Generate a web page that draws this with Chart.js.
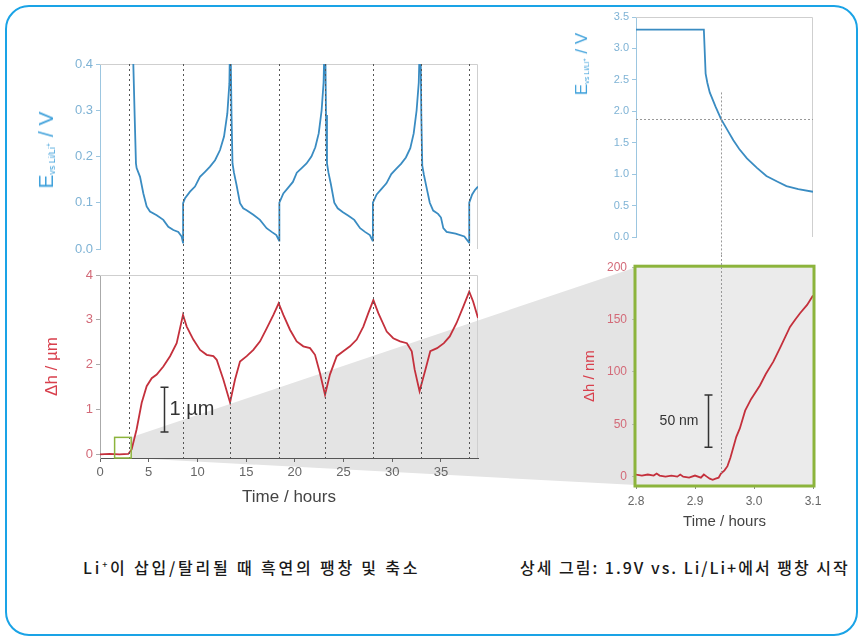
<!DOCTYPE html>
<html>
<head>
<meta charset="utf-8">
<script src="https://cdn.jsdelivr.net/npm/chart.js@4.4.1/dist/chart.umd.min.js"></script>
<style>
  html, body { margin: 0; padding: 0; background: #fff; }
  body { width: 861px; height: 639px; position: relative; overflow: hidden; font-family: 'Liberation Sans', Arial, sans-serif; }
  .frame { position: absolute; left: 5px; top: 5px; width: 849px; height: 627px; border: 2px solid #1aa3e6; border-radius: 24px; }
  #wedge { position: absolute; left: 0; top: 0; width: 861px; height: 639px; background: #e4e4e4; clip-path: polygon(0 0, 0 0, 0 0); }
  canvas { position: absolute; }
  .ylab { position: absolute; transform: translate(-50%, -50%) rotate(-90deg); white-space: nowrap; color: #3fa1db; line-height: 1; }
  .ylab sub { font-size: 0.42em; vertical-align: -0.25em; }
  .ylab sup { font-size: 0.8em; vertical-align: 0.5em; }
  .cap { position: absolute; top: 555px; font-family: 'Noto Sans CJK KR', sans-serif; font-size: 16px; font-weight: 500; color: #1a1a1a; white-space: nowrap; }
  .cap sup { font-size: 9px; vertical-align: 6px; }
</style>
</head>
<body>
<div class="frame"></div>
<div id="wedge"></div>
<canvas id="voltChart" width="490" height="262" style="left:0;top:0"></canvas>
<canvas id="heightChart" width="490" height="250" style="left:0;top:262px"></canvas>
<canvas id="zoomVoltChart" width="300" height="255" style="left:560px;top:0"></canvas>
<canvas id="zoomHeightChart" width="300" height="280" style="left:560px;top:255px"></canvas>
<div class="ylab" style="left:46px;top:150px;font-size:21px">E<sub>vs Li/Li<sup>+</sup></sub> / V</div>
<div class="ylab" style="left:582px;top:64px;font-size:17px">E<sub>vs Li/Li<sup>+</sup></sub> / V</div>
<div class="cap" style="left:83px;letter-spacing:2.8px">Li<sup>+</sup>이 삽입/탈리될 때 흑연의 팽창 및 축소</div>
<div class="cap" style="left:520px;letter-spacing:2px">상세 그림: 1.9V vs. Li/Li+에서 팽창 시작</div>
<script>
// cycle boundaries (hours)
const dashTimes = [3.0, 8.52, 13.35, 18.4, 23.1, 28.0, 32.9, 37.9];

// potential over the whole run
const timeE = [0, 2.95, 3.42, 3.56, 3.69, 3.76, 4.11, 4.45, 4.79, 5.13, 5.82, 6.5, 7.01, 7.53, 8.04, 8.38, 8.52,
  8.53, 8.73, 9.24, 9.75, 10.26, 10.78, 11.29, 11.81, 12.32, 12.73, 13.07, 13.28, 13.35, 13.38,
  13.42, 13.5, 13.6, 13.75, 14.0, 14.37, 14.7, 15.05, 15.74, 16.42, 17.1, 17.62, 18.1, 18.38,
  18.41, 18.82, 19.3, 19.8, 20.2, 20.7, 21.2, 21.7, 22.1, 22.45, 22.75, 22.95, 23.05, 23.08,
  23.12, 23.2, 23.3, 23.45, 23.7, 24.05, 24.4, 24.9, 25.5, 26.1, 26.7, 27.2, 27.7, 27.98,
  28.01, 28.4, 28.9, 29.4, 29.9, 30.4, 30.9, 31.4, 31.85, 32.2, 32.5, 32.72, 32.83, 32.86,
  32.9, 32.98, 33.08, 33.25, 33.5, 33.85, 34.2, 34.7, 35.0, 35.24, 35.58, 36.5, 37.4, 37.88,
  37.9, 38.2, 38.5, 38.8];
const voltE = [3.3, 3.3, 0.40, 0.286, 0.185, 0.175, 0.156, 0.12, 0.092, 0.081, 0.073, 0.063, 0.048, 0.041, 0.037, 0.027, 0.014,
  0.099, 0.11, 0.124, 0.135, 0.156, 0.167, 0.178, 0.192, 0.214, 0.243, 0.293, 0.358, 0.45, 0.8,
  0.45, 0.29, 0.185, 0.165, 0.14, 0.099, 0.088, 0.084, 0.074, 0.063, 0.045, 0.037, 0.03, 0.018,
  0.1, 0.12, 0.132, 0.145, 0.165, 0.175, 0.185, 0.2, 0.22, 0.25, 0.3, 0.36, 0.45, 0.8,
  0.45, 0.29, 0.185, 0.165, 0.14, 0.1, 0.088, 0.08, 0.072, 0.063, 0.045, 0.037, 0.03, 0.018,
  0.1, 0.118, 0.13, 0.142, 0.162, 0.173, 0.184, 0.198, 0.218, 0.25, 0.3, 0.36, 0.45, 0.8,
  0.45, 0.29, 0.18, 0.16, 0.135, 0.1, 0.083, 0.076, 0.068, 0.045, 0.037, 0.033, 0.027, 0.014,
  0.1, 0.118, 0.128, 0.135];

// electrode height change (µm)
const timeH = [0, 1, 2, 2.9, 3.25, 3.76, 4.28, 4.79, 5.31, 5.82, 6.5, 7.19, 7.87, 8.52, 8.9, 9.58, 10.27, 10.95,
  11.64, 11.98, 12.66, 13.35, 13.86, 14.37, 15.06, 15.74, 16.43, 17.11, 17.8, 18.34, 18.82, 19.5, 20.19,
  20.87, 21.56, 22.07, 22.58, 23.1, 23.6, 24.3, 24.97, 25.66, 26.35, 27.03, 27.54, 28.06, 28.57, 29.43,
  30.1, 30.8, 31.5, 32.0, 32.3, 32.8, 33.4, 33.9, 34.6, 35.3, 35.9, 36.6, 37.3, 37.9, 38.3, 38.8];
const heightH = [0, 0.01, 0, 0.01, 0.11, 0.56, 1.15, 1.52, 1.7, 1.78, 1.96, 2.19, 2.48, 3.11, 2.85, 2.56, 2.33, 2.22,
  2.19, 2.11, 1.67, 1.16, 1.67, 2.07, 2.19, 2.33, 2.52, 2.81, 3.11, 3.37, 3.11, 2.78, 2.52,
  2.41, 2.37, 2.22, 1.81, 1.33, 1.78, 2.19, 2.3, 2.41, 2.56, 2.85, 3.15, 3.44, 3.15, 2.74,
  2.59, 2.52, 2.48, 2.3, 1.89, 1.41, 1.89, 2.3, 2.37, 2.48, 2.63, 2.93, 3.3, 3.63, 3.41, 3.04];

// detail around the first lithiation
const zoomTimeE = [2.8, 2.915, 2.918, 2.921, 2.925, 2.935, 2.944, 2.955, 2.965, 2.975, 2.988, 3.005, 3.021, 3.04, 3.055, 3.075, 3.1];
const zoomVoltE = [3.3, 3.3, 2.6, 2.45, 2.3, 2.07, 1.88, 1.7, 1.54, 1.4, 1.25, 1.1, 0.97, 0.88, 0.81, 0.76, 0.72];
const zoomTimeH = [2.8, 2.81, 2.82, 2.83, 2.835, 2.84, 2.85, 2.86, 2.87, 2.875, 2.88, 2.89, 2.9, 2.91, 2.915, 2.92,
  2.925, 2.93, 2.935, 2.94, 2.944, 2.95, 2.955, 2.96, 2.965, 2.97, 2.976, 2.985, 2.995, 3.01, 3.02, 3.033,
  3.045, 3.061, 3.07, 3.078, 3.09, 3.1];
const zoomHeightH = [2, 1, 2, 1, 3, 1, 0, 1, 0, 2, 0, -1, 1, -1, 2, 0,
  -2, -3, -2, -1, 3, 6, 10, 18, 28, 38, 46, 63, 74, 87, 98, 110,
  124, 143, 150, 156, 164, 173];

const onsetTime = 2.944;
const onsetVolt = 1.88;
const insetTime = [1.5, 3.2];
const insetHeight = [-0.08, 0.38];
const barUm = { t: 6.6, from: 0.5, to: 1.5, label: '1 µm' };
const barNm = { t: 2.922, from: 28, to: 78, label: '50 nm' };

const BLUE = '#3a8cc2';
const BLUE_TICK = '#7fb3d5';
const RED = '#c4303c';
const RED_TITLE = '#d8404d';
const RED_TICK = '#d36a78';
const GREEN = '#8cb43c';
const FONT = "'Liberation Sans', Arial, sans-serif";

const xy = (xs, ys) => xs.map((x, i) => ({ x, y: ys[i] }));

const frame = {
  id: 'frame',
  beforeDraw(chart, args, opts) {
    if (!opts.fill) return;
    const a = chart.chartArea;
    chart.ctx.save();
    chart.ctx.fillStyle = opts.fill;
    chart.ctx.fillRect(a.left, a.top, a.right - a.left, a.bottom - a.top);
    chart.ctx.restore();
  },
  beforeDatasetsDraw(chart, args, opts) {
    if (!opts.color) return;
    const a = chart.chartArea;
    const ctx = chart.ctx;
    ctx.save();
    ctx.strokeStyle = opts.color;
    ctx.lineWidth = 1;
    ctx.beginPath();
    ctx.moveTo(a.left, a.top + 0.5);
    ctx.lineTo(a.right - 0.5, a.top + 0.5);
    ctx.lineTo(a.right - 0.5, a.bottom);
    ctx.stroke();
    ctx.restore();
  },
  afterDatasetsDraw(chart, args, opts) {
    if (!opts.border) return;
    const a = chart.chartArea;
    const ctx = chart.ctx;
    ctx.save();
    ctx.strokeStyle = opts.border;
    ctx.lineWidth = 3;
    ctx.strokeRect(a.left - 1, a.top - 1, a.right - a.left + 2, a.bottom - a.top + 2);
    ctx.restore();
  }
};

const guides = {
  id: 'guides',
  afterDatasetsDraw(chart, args, opts) {
    const { ctx, chartArea, scales: { x, y } } = chart;
    ctx.save();
    ctx.strokeStyle = opts.color;
    ctx.lineWidth = 1;
    ctx.setLineDash(opts.dash);
    (opts.times || []).forEach(t => {
      const px = Math.round(x.getPixelForValue(t)) + 0.5;
      const top = opts.fromValue !== undefined ? y.getPixelForValue(opts.fromValue) : (opts.upToCanvas ? 0 : chartArea.top);
      const bottom = opts.toValue !== undefined ? y.getPixelForValue(opts.toValue) : (opts.downToCanvas ? chart.height : chartArea.bottom);
      ctx.beginPath();
      ctx.moveTo(px, top);
      ctx.lineTo(px, bottom);
      ctx.stroke();
    });
    (opts.levels || []).forEach(v => {
      const py = Math.round(y.getPixelForValue(v)) + 0.5;
      ctx.beginPath();
      ctx.moveTo(chartArea.left, py);
      ctx.lineTo(chartArea.right, py);
      ctx.stroke();
    });
    ctx.restore();
  }
};

const marks = {
  id: 'marks',
  afterDatasetsDraw(chart, args, opts) {
    const { ctx, scales: { x, y } } = chart;
    ctx.save();
    if (opts.box) {
      const [t0, t1] = opts.box.t, [h0, h1] = opts.box.h;
      ctx.strokeStyle = GREEN;
      ctx.lineWidth = 1.5;
      ctx.strokeRect(x.getPixelForValue(t0), y.getPixelForValue(h1),
        x.getPixelForValue(t1) - x.getPixelForValue(t0), y.getPixelForValue(h0) - y.getPixelForValue(h1));
    }
    if (opts.bar) {
      const b = opts.bar;
      const px = Math.round(x.getPixelForValue(b.t)) + 0.5;
      const y0 = y.getPixelForValue(b.from), y1 = y.getPixelForValue(b.to);
      ctx.strokeStyle = '#333';
      ctx.lineWidth = 1.5;
      ctx.beginPath();
      ctx.moveTo(px, y0); ctx.lineTo(px, y1);
      ctx.moveTo(px - 4, y0); ctx.lineTo(px + 4, y0);
      ctx.moveTo(px - 4, y1); ctx.lineTo(px + 4, y1);
      ctx.stroke();
      ctx.fillStyle = '#333';
      ctx.font = opts.font;
      ctx.textBaseline = 'middle';
      ctx.textAlign = opts.side === 'left' ? 'right' : 'left';
      ctx.fillText(b.label, px + (opts.side === 'left' ? -10 : 5), (y0 + y1) / 2);
    }
    ctx.restore();
  }
};

const lineSet = (data, color) => ({
  data, borderColor: color, borderWidth: 1.8, pointRadius: 0, tension: 0, fill: false
});

const tickFont = size => ({ family: FONT, size });

const voltChart = new Chart(document.getElementById('voltChart'), {
  type: 'line',
  data: { datasets: [lineSet(xy(timeE, voltE), BLUE)] },
  options: {
    responsive: false, animation: false, parsing: false,
    layout: { padding: { left: 0, right: 12, top: 64, bottom: 13 } },
    plugins: {
      legend: { display: false }, tooltip: { enabled: false },
      frame: { color: '#cfcfcf' },
      guides: { times: dashTimes, color: '#555', dash: [2, 3], downToCanvas: true }
    },
    scales: {
      x: { type: 'linear', min: 0, max: 38.8, display: false },
      y: {
        min: 0, max: 0.4,
        afterFit: s => { s.width = 100; },
        grid: { drawOnChartArea: false, tickLength: 4, color: '#9cc6e0' },
        border: { color: '#9cc6e0' },
        ticks: { stepSize: 0.1, padding: 3, color: BLUE_TICK, font: tickFont(13), callback: v => v.toFixed(1) }
      }
    }
  },
  plugins: [frame, guides]
});

const heightChart = new Chart(document.getElementById('heightChart'), {
  type: 'line',
  data: { datasets: [lineSet(xy(timeH, heightH), RED)] },
  options: {
    responsive: false, animation: false, parsing: false,
    layout: { padding: { left: 38, right: 12, top: 13, bottom: 0 } },
    plugins: {
      legend: { display: false }, tooltip: { enabled: false },
      frame: { color: '#cfcfcf' },
      guides: { times: dashTimes, color: '#555', dash: [2, 3], upToCanvas: true },
      marks: { box: { t: insetTime, h: insetHeight }, bar: barUm, font: `20px ${FONT}`, side: 'right' }
    },
    scales: {
      x: {
        type: 'linear', min: 0, max: 38.8,
        afterFit: s => { s.height = 54; },
        grid: { drawOnChartArea: false, tickLength: 4, color: '#666' },
        border: { color: '#555' },
        ticks: { stepSize: 5, includeBounds: false, padding: 3, color: '#666', font: tickFont(13) },
        title: { display: true, text: 'Time / hours', color: '#444', font: tickFont(17) }
      },
      y: {
        min: -0.08, max: 4,
        afterFit: s => { s.width = 62; },
        grid: { drawOnChartArea: false, tickLength: 4, color: '#aaa' },
        border: { color: '#aaa' },
        ticks: { stepSize: 1, includeBounds: false, padding: 3, color: RED_TICK, font: tickFont(13) },
        title: { display: true, text: 'Δh / µm', color: RED_TITLE, font: tickFont(17) }
      }
    }
  },
  plugins: [frame, guides, marks]
});

const zoomVoltChart = new Chart(document.getElementById('zoomVoltChart'), {
  type: 'line',
  data: { datasets: [lineSet(xy(zoomTimeE, zoomVoltE), BLUE)] },
  options: {
    responsive: false, animation: false, parsing: false,
    layout: { padding: { left: 0, right: 47, top: 17, bottom: 18 } },
    plugins: {
      legend: { display: false }, tooltip: { enabled: false },
      frame: { color: '#cfcfcf' },
      guides: { times: [onsetTime], levels: [onsetVolt], color: '#999', dash: [2, 2], fromValue: 2.3, downToCanvas: true }
    },
    scales: {
      x: { type: 'linear', min: 2.8, max: 3.1, display: false },
      y: {
        min: 0, max: 3.5,
        afterFit: s => { s.width = 76; },
        grid: { drawOnChartArea: false, tickLength: 4, color: '#9cc6e0' },
        border: { color: '#9cc6e0' },
        ticks: { stepSize: 0.5, padding: 3, color: BLUE_TICK, font: tickFont(11), callback: v => v.toFixed(1) }
      }
    }
  },
  plugins: [frame, guides]
});

const zoomHeightChart = new Chart(document.getElementById('zoomHeightChart'), {
  type: 'line',
  data: { datasets: [lineSet(xy(zoomTimeH, zoomHeightH), RED)] },
  options: {
    responsive: false, animation: false, parsing: false,
    layout: { padding: { left: 17, right: 47, top: 12, bottom: 0 } },
    plugins: {
      legend: { display: false }, tooltip: { enabled: false },
      frame: { fill: '#ebebeb', border: GREEN },
      guides: { times: [onsetTime], color: '#999', dash: [2, 2], upToCanvas: true, toValue: 3 },
      marks: { bar: barNm, font: `14px ${FONT}`, side: 'left' }
    },
    scales: {
      x: {
        type: 'linear', min: 2.8, max: 3.1,
        afterFit: s => { s.height = 50; },
        grid: { drawOnChartArea: false, tickLength: 4, color: '#888' },
        border: { display: false },
        ticks: { stepSize: 0.1, includeBounds: false, padding: 5, color: '#666', font: tickFont(12), callback: v => v.toFixed(1) },
        title: { display: true, text: 'Time / hours', color: '#444', font: tickFont(15) }
      },
      y: {
        min: -8, max: 200,
        afterFit: s => { s.width = 59; },
        grid: { drawOnChartArea: false, tickLength: 4, color: '#bbb' },
        border: { display: false },
        ticks: { stepSize: 50, includeBounds: false, padding: 5, color: RED_TICK, font: tickFont(12) },
        title: { display: true, text: 'Δh / nm', color: RED_TITLE, font: tickFont(15) }
      }
    }
  },
  plugins: [frame, guides, marks]
});

// grey wedge from the small marker box to the detail panel
function placeWedge() {
  const cb = heightChart.canvas, cd = zoomHeightChart.canvas;
  const bx = heightChart.scales.x, by = heightChart.scales.y;
  const x1 = cb.offsetLeft + bx.getPixelForValue(insetTime[1]);
  const yTop1 = cb.offsetTop + by.getPixelForValue(insetHeight[1]);
  const yBot1 = cb.offsetTop + by.getPixelForValue(insetHeight[0]);
  const a = zoomHeightChart.chartArea;
  const x2 = cd.offsetLeft + a.left;
  const yTop2 = cd.offsetTop + a.top;
  const yBot2 = cd.offsetTop + a.bottom;
  document.getElementById('wedge').style.clipPath =
    `polygon(${x1}px ${yTop1}px, ${x2}px ${yTop2}px, ${x2}px ${yBot2}px, ${x1}px ${yBot1}px)`;
}
placeWedge();
</script>
</body>
</html>
